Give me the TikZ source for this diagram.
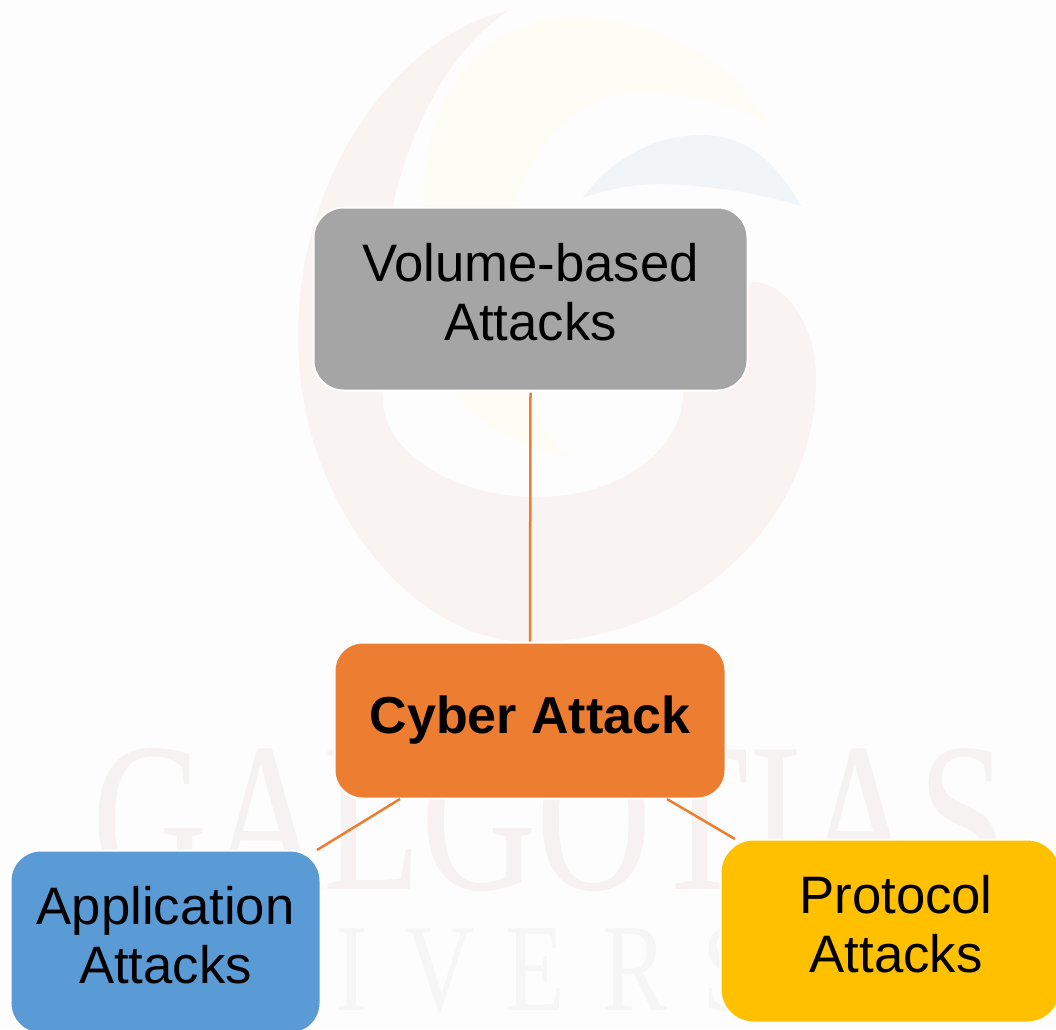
\documentclass[tikz,border=0pt]{standalone}
\usepackage{fontspec}
\setmainfont{Liberation Sans}
\newfontfamily\wmfont{Liberation Serif}
\definecolor{pagebg}{HTML}{FDFDFD}
\definecolor{wmred}{HTML}{F9F3F2}
\definecolor{wmyellow}{HTML}{FDFCF5}
\definecolor{wmblue}{HTML}{F2F5F7}
\definecolor{wmtext}{HTML}{F5F2F1}
\definecolor{wmtexttwo}{HTML}{F6F6F6}
\definecolor{linkcol}{HTML}{ED7D31}
\definecolor{greybox}{HTML}{A5A5A5}
\definecolor{orangebox}{HTML}{ED7D31}
\definecolor{bluebox}{HTML}{5B9BD5}
\definecolor{yellowbox}{HTML}{FFC000}
\newcommand{\twolines}[3]{\raisebox{#3}{\begin{tabular}{@{}c@{}}#1\\#2\end{tabular}}}
\tikzset{
  card/.style={draw=white,line width=2pt,rounded corners=30pt,inner sep=0pt,outer sep=0pt,
    text=black,font=\fontsize{52.7}{59}\selectfont},
  link/.style={draw=linkcol,line width=2.5pt},
  wmbig/.style={text=wmtext,font=\wmfont\fontsize{213}{213}\selectfont,xscale=.75,transform shape,inner sep=0pt},
  wmsmall/.style={text=wmtexttwo,font=\wmfont\fontsize{125}{125}\selectfont,xscale=.78,transform shape,inner sep=0pt,anchor=base}
}
\begin{document}
\begin{tikzpicture}[x=1pt,y=-1pt]
\useasboundingbox (0,0) rectangle (1056,1029);
\clip (0,0) rectangle (1056,1029);
\fill[pagebg] (0,0) rectangle (1056,1029);
% watermark logo
\fill[wmred] (509,10) .. controls (400,35) and (298,170) .. (298,337)
  .. controls (298,500) and (410,642) .. (530,642)
  .. controls (690,642) and (816,520) .. (816,379)
  .. controls (816,330) and (790,285) .. (755,282)
  .. controls (710,285) and (683,340) .. (683,400)
  .. controls (675,460) and (610,497) .. (537,497)
  .. controls (450,497) and (383,450) .. (383,400)
  .. controls (365,300) and (390,90) .. (509,10) -- cycle;
\fill[wmyellow] (766,122) .. controls (730,55) and (650,17) .. (566,17)
  .. controls (470,25) and (423,110) .. (423,202)
  .. controls (423,300) and (440,360) .. (459,400)
  .. controls (490,430) and (530,450) .. (569,457)
  .. controls (530,430) and (509,330) .. (509,250)
  .. controls (509,168) and (570,93) .. (637,93)
  .. controls (690,93) and (735,105) .. (766,122) -- cycle;
\fill[wmblue] (801,206) .. controls (775,160) and (745,135) .. (701,135)
  .. controls (650,135) and (605,165) .. (583,198)
  .. controls (620,185) and (650,182) .. (683,185)
  .. controls (725,188) and (765,195) .. (801,206) -- cycle;
\node[wmbig] (wmname) at (550,820) {GALGOTIAS};
\node[wmsmall] (wmi) at (352,1010) {I};
\node[wmsmall] (wmv) at (440,1010) {V};
\node[wmsmall] (wme) at (535,1010) {E};
\node[wmsmall] (wmr) at (635,1010) {R};
\node[wmsmall] (wms) at (730,1010) {S};
% boxes
\node[card,fill=greybox,minimum width=434pt,minimum height=183pt] (vol) at (530.5,299)
  {\twolines{Volume-based}{Attacks}{5pt}};
\node[card,fill=orangebox,minimum width=391pt,minimum height=156pt,rounded corners=28pt] (cyb) at (530,720.5)
  {\raisebox{-4pt}{\fontsize{52}{59}\selectfont\textbf{Cyber Attack}}};
\node[card,fill=bluebox,minimum width=310pt,minimum height=183pt] (app) at (165.5,942)
  {\twolines{Application}{Attacks}{-1pt}};
\node[card,fill=yellowbox,minimum width=340pt,minimum height=183pt,rounded corners=33pt] (pro) at (890.5,931)
  {\hspace*{11pt}\twolines{Protocol}{Attacks}{-1pt}};
% connectors
\coordinate (cybl) at (400,799);
\coordinate (appr) at (317,850);
\coordinate (cybr) at (667,799);
\coordinate (prol) at (735,839);
\draw[link] ([yshift=-2pt]vol.south) -- ([yshift=1pt]cyb.north);
\draw[link] (cybl) -- (appr);
\draw[link] (cybr) -- (prol);
\end{tikzpicture}
\end{document}
